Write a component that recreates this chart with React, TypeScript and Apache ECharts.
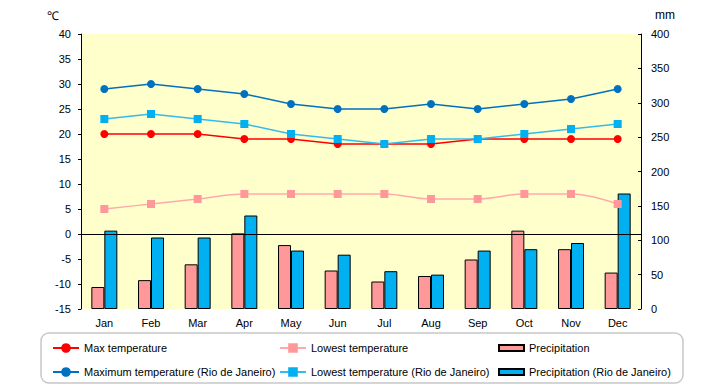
import React, { useEffect, useRef } from "react";
import * as echarts from "echarts";

const months = ["Jan", "Feb", "Mar", "Apr", "May", "Jun", "Jul", "Aug", "Sep", "Oct", "Nov", "Dec"];
const maxTemp = [20, 20, 20, 19, 19, 18, 18, 18, 19, 19, 19, 19];
const lowTemp = [5, 6, 7, 8, 8, 8, 8, 7, 7, 8, 8, 6];
const maxTempRio = [29, 30, 29, 28, 26, 25, 25, 26, 25, 26, 27, 29];
const lowTempRio = [23, 24, 23, 22, 20, 19, 18, 19, 19, 20, 21, 22];
const precip = [32, 42, 65, 110, 93, 56, 40, 48, 72, 114, 87, 53];
const precipRio = [114, 104, 104, 136, 85, 79, 55, 50, 85, 87, 96, 168];

const FONT = "'Liberation Sans', Arial, sans-serif";

export default function App() {
  const ref = useRef<HTMLDivElement>(null);
  useEffect(() => {
    if (!ref.current) return;
    const chart = echarts.init(ref.current, null, { renderer: "svg" });
    const txt = { color: "#000", fontSize: 11, fontFamily: FONT };
    const legendText = { color: "#000", fontSize: 11, fontFamily: FONT, lineHeight: 14 };
    const legendBase = {
      orient: "vertical",
      top: 341,
      height: 60,
      padding: 0,
      itemGap: 10,
      itemWidth: 26,
      itemHeight: 12,
      textStyle: legendText,
      selectedMode: false,
    };
    chart.setOption({
      animation: false,
      backgroundColor: "#fff",
      grid: {
        left: 81,
        right: 79,
        top: 34,
        bottom: 76,
        show: true,
        backgroundColor: "#FFFFCC",
        borderWidth: 0,
      },
      xAxis: {
        type: "category",
        data: months,
        boundaryGap: true,
        axisLine: { show: false },
        axisTick: { show: false },
        axisLabel: { ...txt, margin: 8 },
        splitLine: { show: false },
      },
      yAxis: [
        {
          type: "value",
          min: -15,
          max: 40,
          interval: 5,
          position: "left",
          axisLine: { show: true, lineStyle: { color: "#000", width: 1 } },
          axisTick: { show: true, length: 3, lineStyle: { color: "#000" } },
          axisLabel: { ...txt, margin: 10 },
          splitLine: { show: false },
        },
        {
          type: "value",
          min: 0,
          max: 400,
          interval: 50,
          position: "right",
          axisLine: { show: true, lineStyle: { color: "#000", width: 1 } },
          axisTick: { show: true, length: 3, inside: true, lineStyle: { color: "#000" } },
          axisLabel: { ...txt, margin: 10 },
          splitLine: { show: false },
        },
      ],
      legend: [
        {
          ...legendBase,
          data: ["Max temperature", "Maximum temperature (Rio de Janeiro)"],
          left: 52,
        },
        {
          ...legendBase,
          data: ["Lowest temperature", "Lowest temperature (Rio de Janeiro)"],
          left: 279,
        },
        {
          ...legendBase,
          data: ["Precipitation", "Precipitation (Rio de Janeiro)"],
          left: 498,
          itemWidth: 25,
          itemHeight: 6,
          icon: "rect",
        },
      ],
      graphic: [
        {
          type: "rect",
          shape: { x: 41, y: 333, width: 642, height: 50, r: 8 },
          style: { fill: "none", stroke: "#c8c8c8", lineWidth: 1.5 },
          silent: true,
        },
        {
          type: "text",
          x: 47,
          y: 10,
          style: { text: "℃", fill: "#000", fontSize: 12, fontFamily: FONT },
        },
        {
          type: "text",
          x: 655,
          y: 9,
          style: { text: "mm", fill: "#000", fontSize: 12, fontFamily: FONT },
        },
      ],
      series: [
        {
          name: "Precipitation",
          type: "bar",
          yAxisIndex: 1,
          data: precip,
          barWidth: 13,
          barGap: "0%",
          itemStyle: { color: "#FF9999", borderColor: "#000", borderWidth: 1 },
          z: 1,
        },
        {
          name: "Precipitation (Rio de Janeiro)",
          type: "bar",
          yAxisIndex: 1,
          data: precipRio,
          barWidth: 13,
          barGap: "0%",
          itemStyle: { color: "#00B0F0", borderColor: "#000", borderWidth: 1 },
          z: 1,
        },
        {
          name: "Lowest temperature",
          type: "line",
          yAxisIndex: 0,
          data: lowTemp,
          smooth: 0.4,
          symbol: "rect",
          symbolSize: 8,
          lineStyle: { color: "#FFAAAA", width: 1.5 },
          itemStyle: { color: "#FF9999" },
          z: 3,
          markLine: {
            silent: true,
            symbol: "none",
            label: { show: false },
            lineStyle: { color: "#000", width: 1, type: "solid" },
            data: [{ yAxis: 0 }],
            z: 2,
          },
        },
        {
          name: "Max temperature",
          type: "line",
          yAxisIndex: 0,
          data: maxTemp,
          symbol: "circle",
          symbolSize: 8,
          lineStyle: { color: "#FF0000", width: 1.5 },
          itemStyle: { color: "#FF0000" },
          z: 4,
        },
        {
          name: "Lowest temperature (Rio de Janeiro)",
          type: "line",
          yAxisIndex: 0,
          data: lowTempRio,
          symbol: "rect",
          symbolSize: 8,
          lineStyle: { color: "#33BBEE", width: 1.5 },
          itemStyle: { color: "#00B0F0" },
          z: 5,
        },
        {
          name: "Maximum temperature (Rio de Janeiro)",
          type: "line",
          yAxisIndex: 0,
          data: maxTempRio,
          symbol: "circle",
          symbolSize: 8,
          lineStyle: { color: "#0070C0", width: 1.5 },
          itemStyle: { color: "#0070C0" },
          z: 5,
        },
      ],
    });
    return () => chart.dispose();
  }, []);
  return (
    <div
      ref={ref}
      style={{ position: "fixed", left: 0, top: 0, width: 720, height: 385 }}
    />
  );
}
